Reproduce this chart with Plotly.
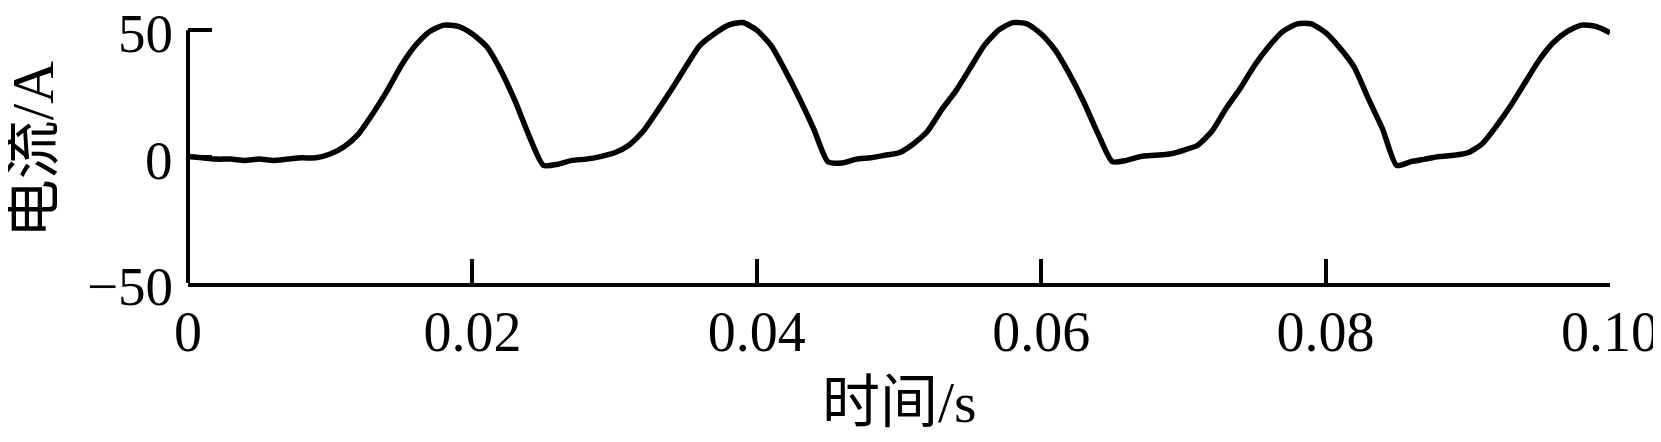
import plotly.graph_objects as go

# time (s) and current (A)
time_s = [round(i * 0.001, 3) for i in range(101)]
current_a = [
    0, -0.5, -1, -1, -1.5, -1, -1.5, -1, -0.5, -0.5,
    1, 4, 9, 17, 26, 36, 44, 49.5, 52, 51.5,
    48.5, 43.5, 34, 22, 8, -3.5, -3, -1.5, -1, 0,
    1.5, 4.5, 10, 18, 26.5, 35.5, 44, 48.5, 52, 53,
    50, 44, 34, 23, 11, -2, -2.5, -1, -0.5, 0.5,
    1.5, 5, 10, 18.5, 26, 35, 44, 50, 53, 52.5,
    48.5, 42, 32.5, 21.5, 9, -2, -1.5, 0, 0.5, 1,
    2.5, 4.5, 10, 19, 27, 36, 43.5, 49.5, 52.5, 52.5,
    49, 43, 35.5, 23, 11, -3.5, -2, -1, 0, 0.5,
    1.5, 5, 12, 20, 29, 38, 45, 49.5, 52, 51.5,
    49,
]

x_tickvals = [0, 0.02, 0.04, 0.06, 0.08, 0.10]
x_ticktext = ["0", "0.02", "0.04", "0.06", "0.08", "0.10"]
y_tickvals = [-50, 0, 50]
y_ticktext = ["\u221250", "0", "50"]
y_axis_span = [-50, 50]

x_title = "时间/s"
y_title = "电流/A"

FONT = "Liberation Serif, Times New Roman, Noto Sans CJK SC, serif"

fig = go.Figure()
fig.add_trace(go.Scatter(
    x=time_s, y=current_a, mode="lines",
    line=dict(color="black", width=5.5, shape="spline", smoothing=0.6),
    showlegend=False, hoverinfo="skip",
))

# visible y axis line only from -50 to 50 (data may rise above 50)
fig.add_shape(type="line", xref="paper", yref="y",
              x0=0, x1=0, y0=y_axis_span[0], y1=y_axis_span[1],
              line=dict(color="black", width=4))

annotations = []
# y tick labels
for v, t in zip(y_tickvals, y_ticktext):
    annotations.append(dict(
        text=t, xref="paper", yref="y", x=0, y=v,
        xanchor="right", yanchor="middle", xshift=-13, yshift=-3, height=56,
        showarrow=False, font=dict(family=FONT, size=55, color="black")))
# axis titles
annotations.append(dict(
    text=x_title, xref="paper", yref="y", x=0.5, y=-50,
    xanchor="center", yanchor="middle", yshift=-119,
    showarrow=False, font=dict(family=FONT, size=58, color="black")))
annotations.append(dict(
    text=y_title, xref="paper", yref="y", x=0, y=2.5,
    xanchor="center", yanchor="middle", xshift=-155, height=54,
    textangle=-90, showarrow=False,
    font=dict(family=FONT, size=59, color="black")))

fig.update_layout(
    width=1661, height=442,
    margin=dict(l=180, r=59, t=7, b=167),
    paper_bgcolor="white", plot_bgcolor="white",
    font=dict(family=FONT, color="black", size=56),
    xaxis=dict(
        range=[0, 0.1], tickvals=x_tickvals, ticktext=x_ticktext,
        ticks="inside", ticklen=24, tickwidth=4, tickcolor="black",
        showline=True, linecolor="black", linewidth=4,
        showgrid=False, zeroline=False,
        tickfont=dict(family=FONT, size=56, color="black"),
        ticklabelstandoff=-3,
    ),
    yaxis=dict(
        range=[-50, 56], tickvals=y_tickvals,
        ticks="inside", ticklen=24, tickwidth=4, tickcolor="black",
        showline=False, showticklabels=False,
        showgrid=False, zeroline=False,
    ),
    annotations=annotations,
)

fig.write_html("out.html")
